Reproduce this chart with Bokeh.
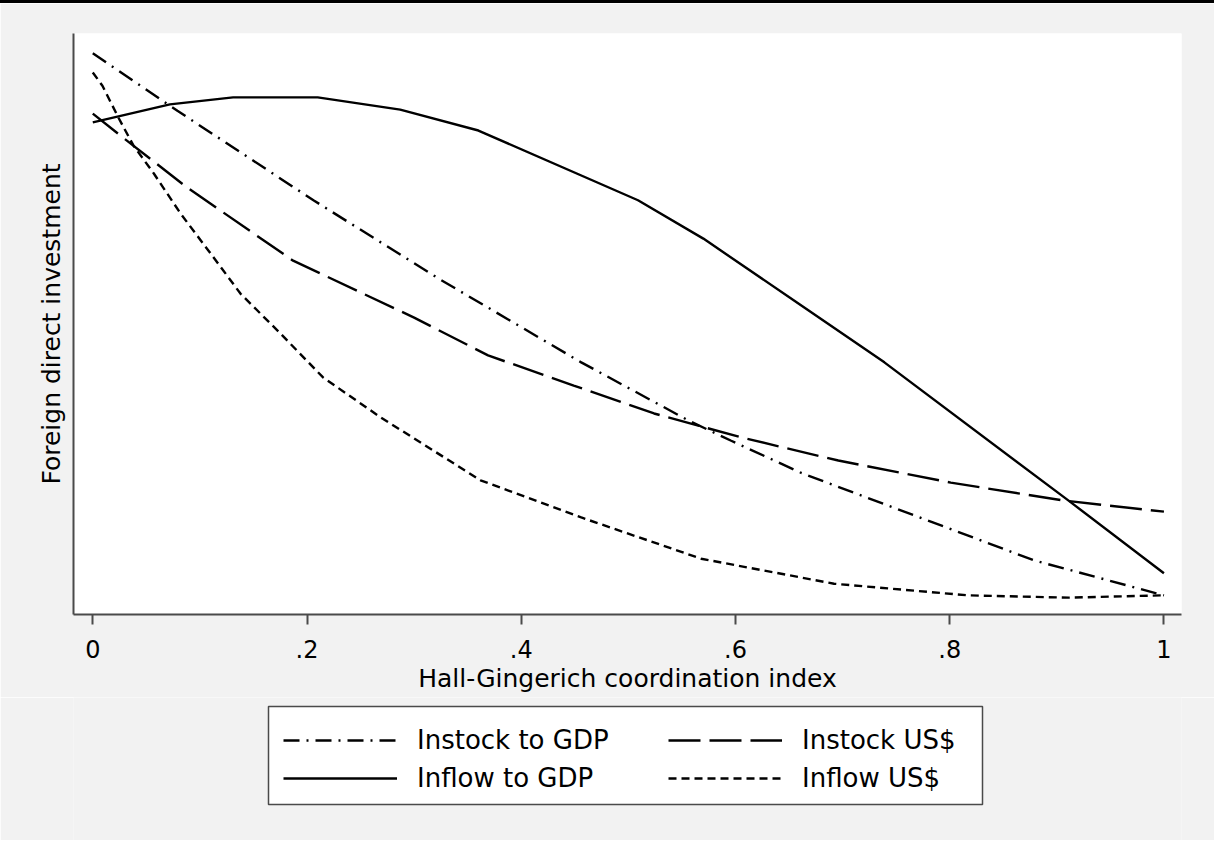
from bokeh.plotting import figure
from bokeh.layouts import column
from bokeh.models import FixedTicker, Legend, LegendItem, BoxAnnotation
from bokeh.embed import file_html
from bokeh.resources import INLINE

# ---- data ----
x_ticks = [0, 0.2, 0.4, 0.6, 0.8, 1.0]
x_tick_labels = ["0", ".2", ".4", ".6", ".8", "1"]

instock_gdp_x = [0.0, 0.079, 0.206, 0.323, 0.456, 0.556, 0.596, 0.661, 0.879, 1.0]
instock_gdp_y = [0.966, 0.867, 0.713, 0.578, 0.434, 0.334, 0.299, 0.244, 0.093, 0.033]

instock_usd_x = [0.0, 0.026, 0.088, 0.187, 0.300, 0.369, 0.449, 0.524, 0.605, 0.696, 0.801, 0.907, 1.0]
instock_usd_y = [0.862, 0.824, 0.735, 0.609, 0.511, 0.446, 0.394, 0.346, 0.305, 0.265, 0.227, 0.196, 0.177]

inflow_gdp_x = [0.0, 0.072, 0.131, 0.210, 0.287, 0.360, 0.509, 0.570, 0.655, 0.739, 0.911, 1.0]
inflow_gdp_y = [0.847, 0.878, 0.890, 0.890, 0.869, 0.833, 0.713, 0.647, 0.540, 0.434, 0.196, 0.071]

inflow_usd_x = [0.0, 0.009, 0.024, 0.038, 0.057, 0.082, 0.113, 0.138, 0.175, 0.215, 0.269, 0.362,
                0.456, 0.568, 0.692, 0.817, 0.911, 1.0]
inflow_usd_y = [0.933, 0.910, 0.855, 0.807, 0.759, 0.690, 0.614, 0.552, 0.484, 0.408, 0.339, 0.231,
                0.167, 0.096, 0.053, 0.033, 0.029, 0.033]

series_labels = ["Instock to GDP", "Instock US$", "Inflow to GDP", "Inflow US$"]
series_dash = ["16 7 2 7", "32 9", "solid", "8 5"]
series_x = [instock_gdp_x, instock_usd_x, inflow_gdp_x, inflow_usd_x]
series_y = [instock_gdp_y, instock_usd_y, inflow_gdp_y, inflow_usd_y]

FONT = "DejaVu Sans"
BG = "#f2f2f2"
AX = "#4a4a4a"
LW = 2.4

# ---------------- main chart ----------------
p = figure(width=1214, height=697, x_range=(-0.018, 1.0164), y_range=(0, 1),
           output_backend="svg", toolbar_location=None,
           background_fill_color="white", border_fill_color=BG,
           min_border_left=73, min_border_right=33, min_border_top=30, min_border_bottom=86)
p.styles = {"border-top": "3px solid black"}
p.outline_line_color = None
p.grid.visible = False

xa = p.xaxis[0]
xa.ticker = FixedTicker(ticks=x_ticks)
xa.major_label_overrides = dict(zip(x_ticks, x_tick_labels))
xa.minor_tick_line_color = None
xa.major_tick_in = 0
xa.major_tick_out = 10
xa.major_tick_line_color = AX
xa.major_tick_line_width = 2
xa.axis_line_color = AX
xa.axis_line_width = 2
xa.major_label_text_font = FONT
xa.major_label_text_font_size = "24px"
xa.major_label_text_color = "black"
xa.major_label_standoff = 15
xa.axis_label = "Hall-Gingerich coordination index"
xa.axis_label_text_font = FONT
xa.axis_label_text_font_size = "25px"
xa.axis_label_text_font_style = "normal"
xa.axis_label_text_color = "black"
xa.axis_label_standoff = 3

ya = p.yaxis[0]
ya.ticker = FixedTicker(ticks=[])
ya.minor_tick_line_color = None
ya.major_tick_line_color = None
ya.axis_line_color = AX
ya.axis_line_width = 2
ya.axis_label = "Foreign direct investment"
ya.axis_label_text_font = FONT
ya.axis_label_text_font_size = "25px"
ya.axis_label_text_font_style = "normal"
ya.axis_label_text_color = "black"
ya.axis_label_standoff = 8

for xs, ys, d in zip(series_x, series_y, series_dash):
    p.line(xs, ys, line_color="black", line_width=LW, line_dash=d)

# ---------------- legend strip below ----------------
# the series are drawn here too, but the y range keeps them out of view:
# they only supply the legend's line samples.
q = figure(width=1214, height=143, x_range=(0, 1), y_range=(10, 11),
           output_backend="svg", toolbar_location=None,
           x_axis_location=None, y_axis_location=None,
           background_fill_color=BG, border_fill_color=BG, min_border=0)
q.outline_line_color = None
q.grid.visible = False

keys = [q.line(xs, ys, line_color="black", line_width=LW, line_dash=d)
        for xs, ys, d in zip(series_x, series_y, series_dash)]

# legend frame (screen units)
box = BoxAnnotation(left=195, right=909, top=134, bottom=36,
                    left_units="screen", right_units="screen",
                    top_units="screen", bottom_units="screen",
                    fill_color="white", fill_alpha=1,
                    line_color=AX, line_width=1.5, line_alpha=1)
q.add_layout(box)

leg = Legend(items=[LegendItem(label=lab, renderers=[r]) for lab, r in zip(series_labels, keys)],
             orientation="horizontal", ncols=2, location=(210, 47))
leg.label_text_font = FONT
leg.label_text_font_size = "26px"
leg.label_text_color = "black"
leg.glyph_width = 114
leg.glyph_height = 20
leg.label_standoff = 20
leg.label_width = 243
leg.spacing = 8
leg.padding = 15
leg.margin = 0
leg.border_line_color = None
leg.background_fill_alpha = 0
q.add_layout(leg, "center")

page = column(p, q, spacing=0)
open("out.html", "w").write(file_html(page, INLINE))
